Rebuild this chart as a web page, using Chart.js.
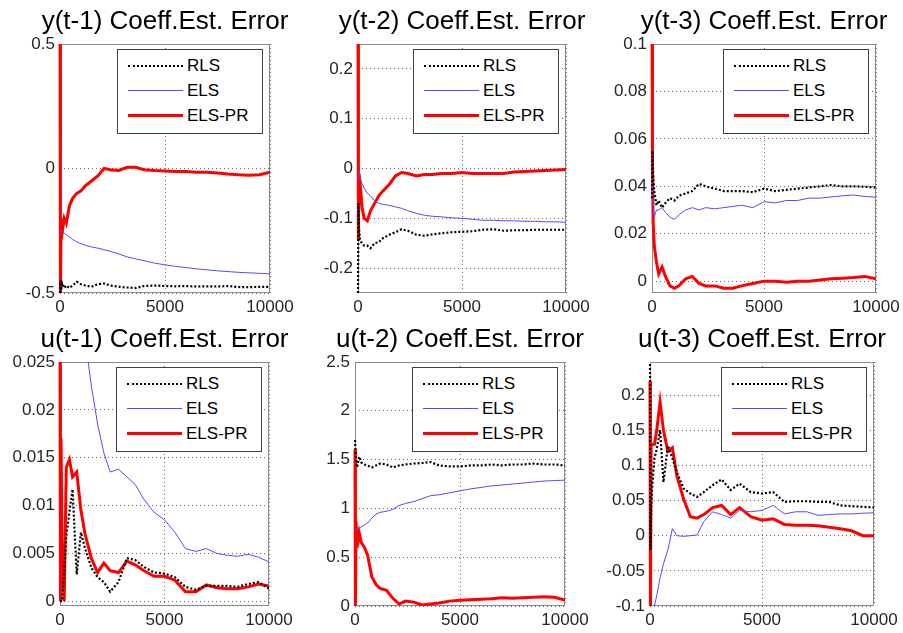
<!DOCTYPE html>
<html lang="en">
<head>
<meta charset="utf-8">
<title>Coeff. Est. Error</title>
<script src="https://cdn.jsdelivr.net/npm/chart.js@4.4.0/dist/chart.umd.min.js"></script>
<style>
  body {
    margin: 0;
    background: #fff;
    width: 903px;
    height: 633px;
    position: relative;
    overflow: hidden;
    font-family: "Liberation Sans", Arial, sans-serif;
  }
  canvas { position: absolute; }
  .legend {
    position: absolute;
    width: 144px;
    height: 80px;
    padding-top: 3px;
    border: 1px solid #404040;
    background: #fff;
    font-size: 17px;
    color: #000;
  }
  .legend .row {
    height: 25px;
    display: flex;
    align-items: center;
  }
  .legend .swatch {
    width: 55px;
    margin-left: 10px;
    margin-right: 4px;
  }
</style>
</head>
<body>
<script>
const steps = [0, 20, 50, 100, 200, 300, 450, 600, 800, 1000, 1200, 1500, 1800, 2100, 2400, 2800,
  3200, 3600, 4000, 4500, 5000, 5500, 6000, 6500, 7000, 7500, 8000, 8500, 9000, 9500, 10000];
const seriesNames = ["RLS", "ELS", "ELS-PR"];
const titles = ["y(t-1) Coeff.Est. Error", "y(t-2) Coeff.Est. Error", "y(t-3) Coeff.Est. Error",
  "u(t-1) Coeff.Est. Error", "u(t-2) Coeff.Est. Error", "u(t-3) Coeff.Est. Error"];
const xTicks = [0, 5000, 10000];

// y(t-1)
const y1Rls = [-0.5, -0.45, -0.49, -0.46, -0.48, -0.47, -0.48, -0.47, -0.455, -0.465, -0.47, -0.475, -0.465, -0.462, -0.47, -0.475,
  -0.478, -0.48, -0.472, -0.47, -0.472, -0.473, -0.472, -0.474, -0.473, -0.474, -0.472, -0.476, -0.477, -0.475, -0.475];
const y1Els = [-0.25, -0.25, -0.25, -0.25, -0.26, -0.265, -0.275, -0.285, -0.295, -0.302, -0.308, -0.315, -0.32, -0.326, -0.333, -0.343,
  -0.355, -0.363, -0.37, -0.38, -0.387, -0.393, -0.398, -0.403, -0.407, -0.411, -0.414, -0.417, -0.419, -0.421, -0.423];
const y1Pr = [0.8, -0.6, -0.2, -0.26, -0.2, -0.22, -0.15, -0.12, -0.1, -0.09, -0.07, -0.05, -0.03, 0.0, -0.005, -0.008,
  0.005, 0.005, -0.005, -0.008, -0.01, -0.012, -0.012, -0.015, -0.015, -0.018, -0.022, -0.025, -0.027, -0.025, -0.015];
const y1Ticks = [-0.5, 0, 0.5];

// y(t-2)
const y2Rls = [-0.25, -0.07, -0.12, -0.145, -0.15, -0.155, -0.155, -0.16, -0.15, -0.148, -0.14, -0.133, -0.128, -0.122, -0.125, -0.133,
  -0.135, -0.132, -0.13, -0.128, -0.127, -0.126, -0.123, -0.122, -0.125, -0.124, -0.124, -0.123, -0.123, -0.123, -0.123];
const y2Els = [-0.005, -0.005, -0.01, -0.02, -0.03, -0.04, -0.05, -0.055, -0.065, -0.07, -0.072, -0.074, -0.077, -0.08, -0.085, -0.09,
  -0.094, -0.096, -0.097, -0.099, -0.1, -0.102, -0.104, -0.104, -0.105, -0.105, -0.106, -0.106, -0.107, -0.107, -0.108];
const y2Pr = [0.3, -0.145, -0.01, -0.03, -0.08, -0.1, -0.105, -0.085, -0.07, -0.055, -0.045, -0.032, -0.015, -0.008, -0.01, -0.015,
  -0.012, -0.012, -0.01, -0.01, -0.008, -0.01, -0.01, -0.01, -0.01, -0.007, -0.006, -0.005, -0.004, -0.003, -0.002];
const y2Ticks = [-0.2, -0.1, 0, 0.1, 0.2];

// y(t-3)
const y3Rls = [0.035, 0.055, 0.045, 0.038, 0.032, 0.034, 0.031, 0.033, 0.035, 0.034, 0.036, 0.037, 0.038, 0.041, 0.04, 0.039,
  0.038, 0.038, 0.038, 0.0375, 0.039, 0.038, 0.0385, 0.039, 0.0395, 0.04, 0.0405, 0.04, 0.04, 0.0398, 0.0395];
const y3Els = [0.04, 0.035, 0.032, 0.027, 0.03, 0.03, 0.031, 0.029, 0.027, 0.026, 0.028, 0.03, 0.031, 0.03, 0.031, 0.0305,
  0.031, 0.0315, 0.032, 0.031, 0.0335, 0.033, 0.034, 0.034, 0.035, 0.035, 0.0355, 0.036, 0.0363, 0.0357, 0.0354];
const y3Pr = [0.12, 0.05, 0.025, 0.015, 0.008, 0.003, 0.006, 0.002, -0.002, -0.003, -0.002, 0.001, 0.002, -0.001, -0.002, -0.002,
  -0.003, -0.003, -0.002, -0.001, 0.0, 0.0, -0.0005, 0.0, 0.0, 0.0005, 0.001, 0.0012, 0.0015, 0.002, 0.001];
const y3Ticks = [0, 0.02, 0.04, 0.06, 0.08, 0.1];

// u(t-1)
const u1Rls = [0, 0, 0, 0, 0.003, 0.0068, 0.0093, 0.0117, 0.0028, 0.0072, 0.0055, 0.0035, 0.0025, 0.002, 0.001, 0.002,
  0.0045, 0.0043, 0.0036, 0.003, 0.0029, 0.0025, 0.0015, 0.0012, 0.0016, 0.0016, 0.0016, 0.0015, 0.0018, 0.002, 0.0013];
const u1Els = [0.06, 0.06, 0.06, 0.058, 0.055, 0.052, 0.048, 0.044, 0.038, 0.032, 0.0275, 0.0225, 0.0185, 0.0155, 0.0135, 0.0138,
  0.013, 0.0122, 0.0107, 0.0093, 0.0085, 0.0072, 0.0055, 0.0052, 0.0055, 0.005, 0.0048, 0.0047, 0.0049, 0.0046, 0.0041];
const u1Pr = [0.03, 0.0, 0.017, 0.005, 0.0, 0.014, 0.0148, 0.013, 0.0135, 0.0095, 0.007, 0.0045, 0.003, 0.004, 0.0032, 0.003,
  0.0042, 0.0038, 0.0032, 0.0026, 0.0026, 0.0022, 0.001, 0.001, 0.0017, 0.0014, 0.0013, 0.0013, 0.0015, 0.0018, 0.0016];
const u1Ticks = [0, 0.005, 0.01, 0.015, 0.02, 0.025];

// u(t-2)
const u2Rls = [1.7, 1.6, 1.5, 1.42, 1.53, 1.47, 1.45, 1.44, 1.42, 1.44, 1.46, 1.45, 1.42, 1.44, 1.45, 1.46,
  1.465, 1.475, 1.44, 1.43, 1.43, 1.44, 1.44, 1.45, 1.44, 1.45, 1.45, 1.46, 1.45, 1.45, 1.44];
const u2Els = [0.78, 0.78, 0.78, 0.79, 0.8, 0.81, 0.83, 0.85, 0.9, 0.94, 0.96, 0.97, 0.99, 1.03, 1.05, 1.07,
  1.1, 1.13, 1.14, 1.16, 1.18, 1.2, 1.215, 1.23, 1.24, 1.25, 1.26, 1.27, 1.28, 1.285, 1.29];
const u2Pr = [1.6, 0.0, 0.87, 0.6, 0.75, 0.65, 0.6, 0.52, 0.3, 0.22, 0.18, 0.16, 0.08, 0.02, 0.05, 0.04,
  0.01, 0.02, 0.03, 0.05, 0.06, 0.065, 0.07, 0.075, 0.085, 0.08, 0.085, 0.09, 0.095, 0.09, 0.06];
const u2Ticks = [0, 0.5, 1, 1.5, 2, 2.5];

// u(t-3)
const u3Rls = [0.25, -0.02, 0.04, 0.07, 0.11, 0.123, 0.15, 0.076, 0.128, 0.11, 0.09, 0.067, 0.06, 0.055, 0.062, 0.072,
  0.08, 0.065, 0.074, 0.062, 0.06, 0.062, 0.048, 0.049, 0.049, 0.048, 0.048, 0.043, 0.042, 0.041, 0.04];
const u3Els = [-0.12, -0.12, -0.12, -0.11, -0.1, -0.085, -0.06, -0.04, -0.02, 0.01, 0.0, -0.001, 0.0, 0.001, 0.02, 0.034,
  0.03, 0.025, 0.036, 0.034, 0.036, 0.043, 0.031, 0.034, 0.034, 0.029, 0.03, 0.031, 0.031, 0.032, 0.0325];
const u3Pr = [0.22, -0.12, 0.13, 0.13, 0.13, 0.15, 0.19, 0.15, 0.12, 0.125, 0.085, 0.052, 0.027, 0.025, 0.03, 0.04,
  0.043, 0.03, 0.04, 0.027, 0.022, 0.024, 0.016, 0.015, 0.015, 0.014, 0.012, 0.01, 0.007, 0.0, 0.0];
const u3Ticks = [-0.1, -0.05, 0, 0.05, 0.1, 0.15, 0.2];

// layout of each subplot: plot area [left, top, right, bottom] in page pixels
const panels = [
  { title: titles[0], series: [y1Rls, y1Els, y1Pr], yMin: -0.5, yMax: 0.5, yTicks: y1Ticks, rect: [60, 44, 270, 293] },
  { title: titles[1], series: [y2Rls, y2Els, y2Pr], yMin: -0.25, yMax: 0.25, yTicks: y2Ticks, rect: [358, 44, 566, 293] },
  { title: titles[2], series: [y3Rls, y3Els, y3Pr], yMin: -0.005, yMax: 0.1, yTicks: y3Ticks, rect: [652, 44, 876, 293] },
  { title: titles[3], series: [u1Rls, u1Els, u1Pr], yMin: -0.0005, yMax: 0.025, yTicks: u1Ticks, rect: [60, 362, 269, 606] },
  { title: titles[4], series: [u2Rls, u2Els, u2Pr], yMin: 0, yMax: 2.5, yTicks: u2Ticks, rect: [355, 362, 565, 606] },
  { title: titles[5], series: [u3Rls, u3Els, u3Pr], yMin: -0.1, yMax: 0.247, yTicks: u3Ticks, rect: [650, 362, 874, 606] },
];

const lineStyles = [
  { color: "#000000", width: 2.2, dash: [2, 2] },
  { color: "#4d4dff", width: 1, dash: [] },
  { color: "#ff0000", width: 3, dash: [] },
];

// an empty right axis as wide as the left one keeps the title centred over the axes
const Y_AXIS_W = 60, TITLE_H = 44, X_AXIS_H = 28;

Chart.defaults.font.family = '"Liberation Sans", Arial, sans-serif';
Chart.defaults.color = "#262626";

// box round the axes, like MATLAB "box on"
const boxPlugin = {
  id: "box",
  beforeDatasetsDraw(chart) {
    const { ctx, chartArea: a } = chart;
    ctx.save();
    ctx.strokeStyle = "#8c8c8c";
    ctx.lineWidth = 1;
    ctx.strokeRect(a.left + 0.5, a.top + 0.5, a.right - a.left - 1, a.bottom - a.top - 1);
    ctx.restore();
  },
};

const fmt = (v) => String(+Number(v).toFixed(4));

panels.forEach((p) => {
  const [L, T, R, B] = p.rect;
  const canvas = document.createElement("canvas");
  const w = R - L + 2 * Y_AXIS_W;
  const h = B - T + TITLE_H + X_AXIS_H;
  canvas.width = w;
  canvas.height = h;
  canvas.style.left = (L - Y_AXIS_W) + "px";
  canvas.style.top = (T - TITLE_H) + "px";
  canvas.style.width = w + "px";
  canvas.style.height = h + "px";
  document.body.appendChild(canvas);

  new Chart(canvas, {
    type: "line",
    plugins: [boxPlugin],
    data: {
      datasets: p.series.map((ys, i) => ({
        label: seriesNames[i],
        data: steps.map((x, k) => ({ x: x, y: ys[k] })),
        borderColor: lineStyles[i].color,
        borderWidth: lineStyles[i].width,
        borderDash: lineStyles[i].dash,
        pointRadius: 0,
        tension: 0,
        fill: false,
        clip: { left: 2, top: 0, right: 0, bottom: 0 },
      })),
    },
    options: {
      responsive: false,
      devicePixelRatio: 1,
      animation: false,
      layout: { padding: 0 },
      plugins: {
        legend: { display: false },
        tooltip: { enabled: false },
        title: {
          display: true,
          text: p.title,
          color: "#000",
          font: { size: 26, weight: "normal" },
          padding: { top: 6, bottom: 6.8 },
        },
      },
      scales: {
        x: {
          type: "linear",
          min: 0,
          max: 10000,
          afterBuildTicks: (s) => { s.ticks = xTicks.map((v) => ({ value: v })); },
          afterFit: (s) => { s.height = X_AXIS_H; },
          grid: { color: "#6a6a6a", drawTicks: false },
          border: { display: false, dash: [1, 3] },
          ticks: { font: { size: 17 }, padding: 4, maxRotation: 0, autoSkip: false, callback: (v) => String(v) },
        },
        y: {
          type: "linear",
          min: p.yMin,
          max: p.yMax,
          afterBuildTicks: (s) => { s.ticks = p.yTicks.map((v) => ({ value: v })); },
          afterFit: (s) => { s.width = Y_AXIS_W; },
          grid: { color: "#6a6a6a", drawTicks: false },
          border: { display: false, dash: [1, 3] },
          ticks: { font: { size: 17 }, padding: 5, autoSkip: false, callback: fmt },
        },
        spacer: {
          type: "linear",
          position: "right",
          min: 0,
          max: 1,
          afterFit: (s) => { s.width = Y_AXIS_W; },
          grid: { display: false, drawTicks: false },
          border: { display: false },
          ticks: { display: false },
        },
      },
    },
  });

  // legend box inside the axes, top right
  const lg = document.createElement("div");
  lg.className = "legend";
  lg.style.left = (R - 7 - 146) + "px";
  lg.style.top = (T + 5) + "px";
  seriesNames.forEach((name, i) => {
    const row = document.createElement("div");
    row.className = "row";
    const sw = document.createElement("span");
    sw.className = "swatch";
    const st = lineStyles[i];
    sw.style.borderTop = Math.round(st.width) + "px " + (st.dash.length ? "dotted " : "solid ") + st.color;
    const tx = document.createElement("span");
    tx.textContent = name;
    row.appendChild(sw);
    row.appendChild(tx);
    lg.appendChild(row);
  });
  document.body.appendChild(lg);
});
</script>
</body>
</html>
